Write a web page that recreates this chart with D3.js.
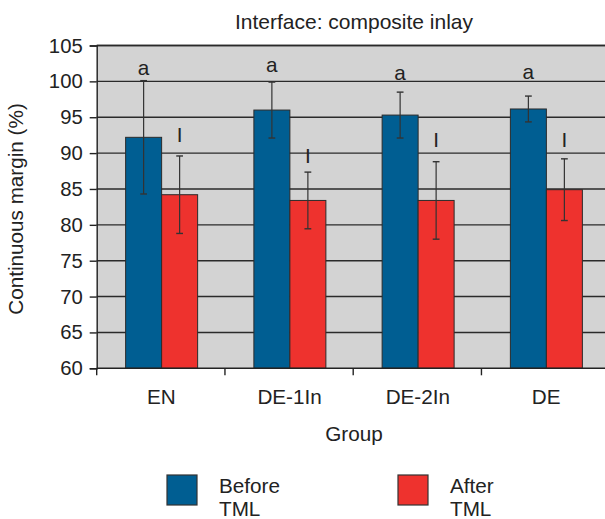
<!DOCTYPE html>
<html><head><meta charset="utf-8">
<script src="https://cdn.jsdelivr.net/npm/d3@7"></script>
<style>body{margin:0;background:#fff}svg{display:block;font-family:"Liberation Sans",Arial,sans-serif}</style>
</head><body><svg id="c" width="605" height="519"></svg>
<script>
const categories = ["EN","DE-1In","DE-2In","DE"];
const seriesNames = ["Before TML","After TML"];
const beforeVals = [92.2, 96.0, 95.3, 96.15];
const beforeErr  = [7.9, 3.9, 3.2, 1.8];
const afterVals  = [84.2, 83.4, 83.4, 84.9];
const afterErr   = [5.4, 3.95, 5.4, 4.3];
const beforeLetters = ["a","a","a","a"];
const afterLetters  = ["I","I","I","I"];
const beforeLetterAt = [100.9, 101.3, 100.2, 100.3];
const afterLetterAt  = [91.6, 88.6, 90.9, 90.9];
const yTicks = [60,65,70,75,80,85,90,95,100,105];

const colors = ["#005e92","#ee322e"];
const FS = 20.7;
const svg = d3.select("#c");
const L = 96.7, T = 45.5, B = 368.3, W = 513;
const x = d3.scaleBand().domain(categories).range([L, L + W]).paddingInner(0).paddingOuter(0);
const xs = d3.scaleBand().domain([0,1]).range([0, 72]);
const y = d3.scaleLinear().domain([60,105]).range([B, T]);

svg.append("rect").attr("x", L).attr("y", T).attr("width", W).attr("height", B - T).attr("fill", "#d3d3d3");
// grid
svg.append("g").selectAll("line").data(yTicks.slice(1)).join("line")
  .attr("x1", L).attr("x2", L + W).attr("y1", d => y(d)).attr("y2", d => y(d))
  .attr("stroke", "#2a2a2a").attr("stroke-width", 1.4);

const groups = categories.map((c, i) => ({c, i, vals: [beforeVals[i], afterVals[i]], errs: [beforeErr[i], afterErr[i]],
  letters: [beforeLetters[i], afterLetters[i]], lat: [beforeLetterAt[i], afterLetterAt[i]]}));

const g = svg.append("g");
groups.forEach(gr => {
  const x0 = x(gr.c) + (x.bandwidth() - 72) / 2 + 0.8;
  gr.vals.forEach((v, s) => {
    const bx = x0 + xs(s);
    g.append("rect").attr("x", bx).attr("y", y(v)).attr("width", xs.bandwidth()).attr("height", y(60) - y(v))
      .attr("fill", colors[s]).attr("stroke", "#2b2b2b").attr("stroke-width", 1);
    const cx = bx + xs.bandwidth() / 2;
    const e = gr.errs[s];
    g.append("line").attr("x1", cx).attr("x2", cx).attr("y1", y(v + e)).attr("y2", y(v - e)).attr("stroke", "#333").attr("stroke-width", 1.2);
    [v + e, v - e].forEach(ev => g.append("line").attr("x1", cx - 3.4).attr("x2", cx + 3.4).attr("y1", y(ev)).attr("y2", y(ev)).attr("stroke", "#333").attr("stroke-width", 1.4));
    g.append("text").attr("x", cx).attr("y", y(gr.lat[s])).attr("text-anchor", "middle").attr("font-size", FS).attr("fill", "#222").text(gr.letters[s]);
  });
});

// top border
svg.append("line").attr("x1", L).attr("x2", L + W).attr("y1", T).attr("y2", T).attr("stroke", "#2a2a2a").attr("stroke-width", 1.4);

// y axis
const ya = svg.append("g").attr("transform", `translate(${L},0)`)
  .call(d3.axisLeft(y).tickValues(yTicks).tickSize(7).tickPadding(7));
ya.select(".domain").attr("stroke", "#222").attr("stroke-width", 1.4);
ya.selectAll(".tick line").attr("stroke", "#222").attr("stroke-width", 1.4);
ya.selectAll("text").attr("font-size", 20.3).attr("fill", "#222").attr("font-family", "Liberation Sans, Arial, sans-serif");

// x axis
const xa = svg.append("g").attr("transform", `translate(0,${B})`);
xa.append("line").attr("x1", L).attr("x2", L + W).attr("stroke", "#222").attr("stroke-width", 1.4);
xa.selectAll("line.t").data(categories).join("line").attr("class", "t")
  .attr("x1", d => x(d)).attr("x2", d => x(d)).attr("y1", 0).attr("y2", 7).attr("stroke", "#222").attr("stroke-width", 1.4);
xa.selectAll("text").data(categories).join("text")
  .attr("x", d => x(d) + x.bandwidth() / 2 + 0.5).attr("y", 36).attr("text-anchor", "middle")
  .attr("font-size", FS).attr("fill", "#222").text(d => d);

// titles
svg.append("text").attr("x", 354).attr("y", 28.5).attr("text-anchor", "middle").attr("font-size", 21).attr("fill", "#222").text("Interface: composite inlay");
svg.append("text").attr("x", 354).attr("y", 441).attr("text-anchor", "middle").attr("font-size", FS).attr("fill", "#222").text("Group");
svg.append("text").attr("transform", "translate(23,209) rotate(-90)").attr("text-anchor", "middle").attr("font-size", FS).attr("fill", "#222").text("Continuous margin (%)");

// legend
const legX = [167, 398];
seriesNames.forEach((n, i) => {
  svg.append("rect").attr("x", legX[i]).attr("y", 475).attr("width", 30).attr("height", 30)
    .attr("fill", colors[i]).attr("stroke", "#333").attr("stroke-width", 1.2);
  const parts = n.split(" ");
  const t = svg.append("text").attr("y", 492.5).attr("font-size", FS).attr("fill", "#222");
  parts.forEach((p, k) => t.append("tspan").attr("x", legX[i] + 52).attr("dy", k ? 23.5 : 0).text(p));
});
</script></body></html>
